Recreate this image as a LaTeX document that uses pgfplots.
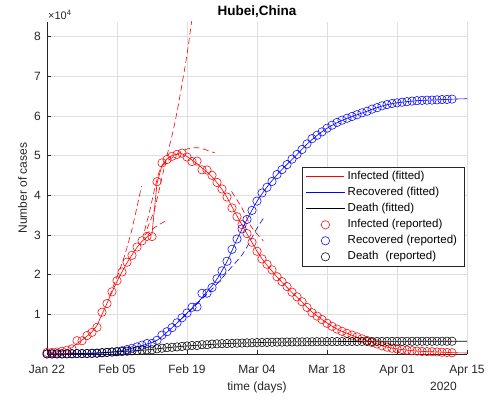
\documentclass[border=0pt]{standalone}
\usepackage{pgfplots}
\pgfplotsset{compat=1.18}
\usepackage{pgfplotstable}
\usepackage{fontspec}
\setmainfont{Liberation Sans}

\definecolor{axgray}{RGB}{38,38,38}
\definecolor{gridgray}{RGB}{223,223,223}

% Hubei, reported cases per day (day 0 = Jan 22, 2020)
\pgfplotstableread{
day infected recovered death
0 399 28 17
1 399 28 17
2 494 31 24
3 689 32 40
4 964 42 52
5 1302 45 76
6 3349 80 125
7 3341 88 125
8 4651 90 162
9 5461 141 204
10 6736 168 249
11 10532 295 350
12 12722 386 414
13 15677 522 479
14 18483 633 549
15 20677 817 618
16 23139 1115 699
17 24881 1439 780
18 26965 1795 871
19 28532 2222 974
20 29659 2639 1068
21 29612 2686 1068
22 43437 3459 1310
23 48175 4774 1457
24 49030 5623 1596
25 49847 6639 1696
26 50338 7862 1789
27 50633 9128 1921
28 49665 10337 2029
29 48510 11788 2144
30 48637 11881 2144
31 46439 15299 2346
32 46395 15343 2346
33 45044 16748 2495
34 43252 18971 2563
35 41603 20969 2615
36 39572 23383 2641
37 36829 26403 2682
38 34617 28993 2727
39 32610 31536 2761
40 30366 33934 2803
41 28174 36208 2835
42 25904 38557 2871
43 23972 40592 2902
44 22628 42033 2931
45 21207 43500 2959
46 19486 45235 2986
47 18247 46488 3008
48 16993 47743 3024
49 15593 49134 3046
50 14407 50318 3056
51 13171 51553 3062
52 11755 52960 3075
53 10421 54288 3085
54 9557 55142 3099
55 8685 56003 3111
56 7751 56927 3122
57 6988 57682 3130
58 6285 58382 3133
59 5715 58946 3139
60 5214 59433 3153
61 4765 59882 3153
62 4317 60324 3160
63 3827 60811 3163
64 3431 61201 3169
65 2895 61732 3174
66 2526 62098 3177
67 2049 62570 3182
68 1726 62889 3186
69 1461 63153 3187
70 1283 63326 3193
71 1132 63471 3199
72 987 63612 3203
73 834 63762 3207
74 730 63863 3210
75 646 63945 3212
76 596 63995 3212
77 576 64014 3213
78 515 64073 3215
79 445 64142 3216
80 397 64187 3219
81 320 64264 3219
}\reported

% fitted infected curve
\pgfplotstableread{
day val
0 400
1 430
2 520
3 700
4 1000
5 1600
6 2700
7 3500
8 4500
9 5600
10 7200
11 10000
12 12800
13 15600
14 18300
15 20700
16 23000
17 25000
18 26900
19 28400
20 29500
21 30300
22 43000
23 47600
24 49200
25 50000
26 50400
27 50500
28 49800
29 48900
30 48000
31 46900
32 45900
33 44700
34 43200
35 41500
36 39500
37 37100
38 34800
39 32500
40 30300
41 28100
42 25900
43 24000
44 22400
45 20900
46 19400
47 18100
48 16800
49 15500
50 14300
51 13100
52 11800
53 10600
54 9600
55 8700
56 7800
57 7000
58 6300
59 5700
60 5200
61 4700
62 4250
63 3800
64 3400
65 2950
66 2550
67 2100
68 1750
69 1480
70 1280
71 1130
72 990
73 850
74 740
75 660
76 600
77 570
78 520
79 460
80 400
81 350
82 310
83 280
84 250
}\fitinf

% fitted recovered curve
\pgfplotstableread{
day val
0 28
2 31
4 42
6 75
8 95
10 170
12 380
14 640
16 1100
18 1790
20 2500
22 3450
24 5500
26 7800
28 10300
30 12800
32 15700
34 18900
36 23300
38 28900
40 33900
42 38500
44 42100
46 45200
48 47800
50 50300
52 52900
54 55100
56 56900
58 58300
60 59400
62 60300
64 61200
66 62100
68 62850
70 63330
72 63620
74 63860
76 63990
78 64070
80 64190
82 64290
84 64350
}\fitrec

% fitted death curve
\pgfplotstableread{
day val
0 17
4 52
8 160
12 414
16 700
20 1040
24 1580
28 2030
32 2350
36 2640
40 2800
44 2930
48 3025
52 3075
56 3122
60 3150
64 3169
68 3186
72 3203
76 3212
80 3219
84 3222
}\fitdea

\pgfplotsset{
  wideimage/.style={legend image code/.code={%
    \draw[mark repeat=2, mark phase=2, ##1] plot coordinates {(0pt,0pt) (19pt,0pt) (38pt,0pt)};}},
  fitline/.style={line width=0.6pt, mark=none, wideimage},
  repmark/.style={only marks, mark=o, mark size=4.2pt, mark options={solid, line width=0.55pt}, wideimage},
  phase/.style={line width=0.6pt, mark=none, dash pattern=on 6pt off 3.5pt, smooth, forget plot},
}

\begin{document}
\begin{tikzpicture}
\begin{axis}[
  at={(0pt,0pt)}, anchor=south west,
  scale only axis, width=420pt, height=332pt,
  xmin=0, xmax=84, ymin=0, ymax=83700,
  axis lines=left,
  axis line style={axgray, line width=0.6pt, -},
  tick align=inside,
  major tick length=4pt,
  major tick style={axgray, line width=0.6pt},
  grid=major,
  major grid style={gridgray, line width=0.6pt},
  xtick={0,14,28,42,56,70,84},
  xticklabels={Jan 22,Feb 05,Feb 19,Mar 04,Mar 18,Apr 01,Apr 15},
  ytick={10000,20000,30000,40000,50000,60000,70000,80000},
  yticklabels={1,2,3,4,5,6,7,8},
  scaled y ticks=false,
  tick label style={font=\fontsize{12}{14}\selectfont, text=axgray},
  xticklabel style={anchor=base, yshift=-19.3pt},
  yticklabel style={anchor=east, inner sep=0pt, xshift=-6pt},
  xlabel={time (days)},
  ylabel={Number of cases},
  every axis x label/.style={at={(rel axis cs:0.5,0)}, anchor=base, yshift=-36.5pt, font=\fontsize{12}{14}\selectfont, text=axgray},
  every axis y label/.style={at={(rel axis cs:0,0.5)}, rotate=90, anchor=center, yshift=24.5pt, font=\fontsize{12}{14}\selectfont, text=axgray},
  title={Hubei,China},
  every axis title/.style={at={(rel axis cs:0.5,1)}, anchor=center, yshift=10pt, font=\fontsize{13.5}{15}\selectfont\bfseries},
  legend cell align=left,
  legend style={at={(rel axis cs:0.607,0.563)}, anchor=north west,
    draw=axgray, fill=white,
    font=\fontsize{11.5}{13}\selectfont,
    inner xsep=4pt, inner ysep=1.5pt, row sep=0pt,
    nodes={inner xsep=3pt, inner ysep=2.5pt, text height=8.5pt, text depth=2.5pt}},
]
% fitted trajectories
\addplot[red, fitline] table[x=day, y=val]{\fitinf};
\addlegendentry{Infected (fitted)}
\addplot[blue, fitline, smooth] table[x=day, y=val]{\fitrec};
\addlegendentry{Recovered (fitted)}
\addplot[black, fitline, smooth] table[x=day, y=val]{\fitdea};
\addlegendentry{Death (fitted)}

% fits over shorter windows
\addplot[red, phase] coordinates {(12.5,14500) (14,19500) (15.3,23900) (17,31500) (18.9,42300)};
\addplot[red, phase] coordinates {(20,31500) (21.5,36500) (23,44500) (24,50000) (25,55000) (26,61000) (27,68000) (28,75500) (29,84500)};
\addplot[red, phase] coordinates {(19.5,31000) (20.6,36400) (21.6,42000) (22.6,46500) (23.7,48300) (24.9,49400) (27.6,51500) (30.2,52000) (32.6,51100) (33.6,50700)};
\addplot[red, phase] coordinates {(36.9,41000) (38.9,37000) (40.9,32000) (43.3,28500)};
\addplot[red, phase] coordinates {(19.5,30000) (22,32300) (24,33700)};
\addplot[blue, phase] coordinates {(27,9000) (30.3,13000) (33.5,17000) (36.6,21500) (39.3,25500) (41.9,31500) (43.4,34400)};

% reported data
\addplot[red, repmark] table[x=day, y=infected]{\reported};
\addlegendentry{Infected (reported)}
\addplot[blue, repmark] table[x=day, y=recovered]{\reported};
\addlegendentry{Recovered (reported)}
\addplot[black, repmark] table[x=day, y=death]{\reported};
\addlegendentry{Death\hspace{4pt} (reported)}
\end{axis}
\node[anchor=base west, inner sep=0pt, text=axgray, font=\fontsize{11}{13}\selectfont] at (1pt,334.7pt) {×10\textsuperscript{4}};
\node[anchor=base east, inner sep=0pt, text=axgray, font=\fontsize{12}{14}\selectfont] at (410pt,-36.5pt) {2020};
\pgfresetboundingbox
\path[use as bounding box] (-47pt,-47pt) rectangle (447pt,354pt);
\end{tikzpicture}
\end{document}
